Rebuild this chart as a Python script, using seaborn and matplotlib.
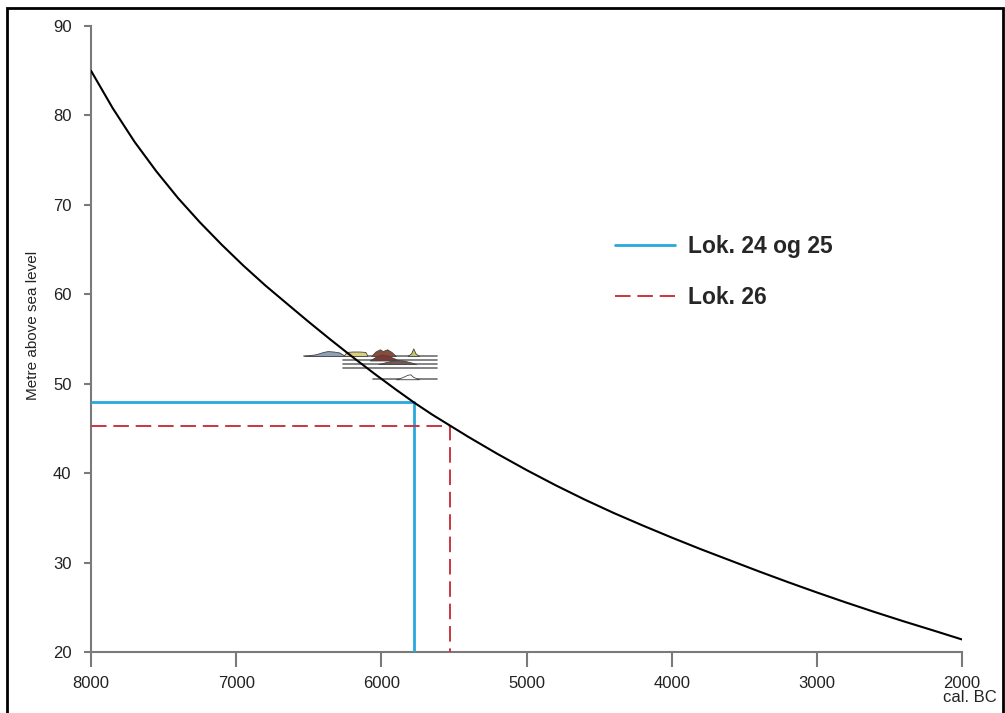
import matplotlib
matplotlib.use("Agg")
import matplotlib.pyplot as plt
import seaborn as sns
import pandas as pd
from matplotlib.patches import Rectangle

# Shoreline displacement curve (cal. BC vs metres above sea level)
curve_years = [8000, 7850, 7700, 7550, 7400, 7250, 7100, 6950, 6800, 6650, 6500,
               6350, 6200, 6050, 5900, 5775, 5650, 5525, 5400, 5200, 5000, 4800,
               4600, 4400, 4200, 4000, 3800, 3600, 3400, 3200, 3000, 2800, 2600,
               2400, 2200, 2000]
curve_height = [85.0, 80.8, 77.05, 73.75, 70.75, 68.05, 65.55, 63.2, 61.0, 58.95,
                56.91, 54.93, 53.01, 51.15, 49.35, 47.9, 46.55, 45.3, 44.05, 42.15,
                40.35, 38.65, 37.05, 35.55, 34.15, 32.8, 31.5, 30.26, 29.02, 27.82,
                26.66, 25.54, 24.46, 23.42, 22.42, 21.4]

# Dated sites
site_labels = ["Lok. 24 og 25", "Lok. 26"]
site_years = [5775, 5525]
site_height = [47.9, 45.3]
site_colors = ["#27a8da", "#c9373f"]

# Calibrated date ranges drawn as thin baselines
date_base = [53.1, 52.6, 52.2, 51.8, 50.5]
date_start = [6530, 6265, 6265, 6265, 6055]
date_end = [5615, 5615, 5615, 5615, 5615]

# Probability humps on the baselines: (baseline index, years, heights, colour)
hump_line = [0, 0, 0, 0, 1, 2, 4]
hump_years = [
    [6530, 6450, 6400, 6370, 6330, 6290, 6250],
    [6260, 6240, 6200, 6150, 6110, 6095],
    [6070, 6040, 6010, 5990, 5960, 5930, 5900],
    [5820, 5795, 5780, 5765, 5740],
    [6080, 6040, 6000, 5960, 5920, 5880],
    [6020, 5960, 5900, 5850, 5800, 5760],
    [5900, 5860, 5820, 5800, 5780, 5740],
]
hump_heights = [
    [0, 0.2, 0.45, 0.55, 0.5, 0.4, 0],
    [0, 0.45, 0.5, 0.5, 0.45, 0],
    [0, 0.5, 0.75, 0.55, 0.75, 0.45, 0],
    [0, 0.3, 0.85, 0.3, 0],
    [0, 0.4, 0.65, 0.55, 0.3, 0],
    [0, 0.25, 0.45, 0.4, 0.2, 0],
    [0, 0.2, 0.5, 0.55, 0.25, 0],
]
hump_colors = ["#8fa0b4", "#d9d07c", "#8a4a3c", "#bcc66c", "#7b3a36", "#6e5a52", "#ffffff"]

x_ticks = [8000, 7000, 6000, 5000, 4000, 3000, 2000]
y_ticks = [20, 30, 40, 50, 60, 70, 80, 90]

sns.set_style("ticks")
plt.rcParams["font.family"] = ["Liberation Sans", "DejaVu Sans"]

fig = plt.figure(figsize=(10.05, 7.13), dpi=100)
ax = fig.add_axes([91 / 1005, 61 / 713, 871 / 1005, 626 / 713])

df = pd.DataFrame({"year": curve_years, "height": curve_height})
sns.lineplot(data=df, x="year", y="height", sort=False, color="black",
             linewidth=1.5, ax=ax, zorder=5)

# Site reading lines: horizontal to the curve, then down to the axis
x0, y0 = 8000, 20
blue = ax.plot([x0, site_years[0], site_years[0]], [site_height[0], site_height[0], y0],
               color=site_colors[0], linewidth=2.0, zorder=4)[0]
red = ax.plot([x0, site_years[1], site_years[1]], [site_height[1], site_height[1], y0],
              color=site_colors[1], linewidth=1.4, dashes=(8, 3.5), zorder=4)[0]

# Calibrated date plots
for b, s, e in zip(date_base, date_start, date_end):
    ax.plot([s, e], [b, b], color="#6f6f6f", linewidth=1.2, zorder=2)
for li, xs, hs, c in zip(hump_line, hump_years, hump_heights, hump_colors):
    b = date_base[li]
    ax.fill_between(xs, [b] * len(xs), [b + h for h in hs], facecolor=c,
                    edgecolor="#444444", linewidth=0.6, zorder=3)

ax.set_xlim(8000, 2000)
ax.set_ylim(20, 90)
ax.set_xticks(x_ticks)
ax.set_yticks(y_ticks)
ax.set_xticklabels([str(t) for t in x_ticks])
ax.set_xlabel("")
ax.set_ylabel("Metre above sea level", fontsize=11, color="#222222")
ax.yaxis.set_label_coords((40 - 91) / 871, (652 - 325) / 626)

for side in ["top", "right"]:
    ax.spines[side].set_visible(False)
for side in ["left", "bottom"]:
    ax.spines[side].set_color("#7a7a7a")
    ax.spines[side].set_linewidth(1.5)
ax.tick_params(axis="x", length=11, width=1.5, color="#7a7a7a", labelsize=12,
               labelcolor="#222222", pad=6)
ax.tick_params(axis="y", length=5, width=1.5, color="#7a7a7a", labelsize=12,
               labelcolor="#222222", pad=9)

fig.text(943 / 1005, 1 - 698 / 713, "cal. BC", ha="left", va="center",
         fontsize=12, color="#222222")

leg = ax.legend([blue, red], site_labels, loc="upper left",
                bbox_to_anchor=(615 / 1005, 1 - 235 / 713),
                bbox_transform=fig.transFigure, frameon=False,
                borderpad=0, borderaxespad=0, handlelength=2.6,
                handletextpad=0.6, labelspacing=1.22,
                prop={"size": 16.5, "weight": "bold"})

# Page frame
fig.patches.append(Rectangle((7 / 1005, -0.02), 996 / 1005, 1.02 - 8 / 713,
                             transform=fig.transFigure, fill=False,
                             edgecolor="black", linewidth=2.0))

fig.savefig("out.png", dpi=100)
